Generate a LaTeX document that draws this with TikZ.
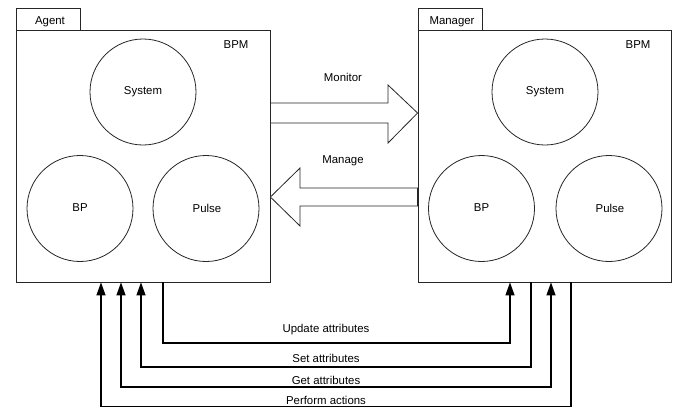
\documentclass[tikz,border=0pt]{standalone}
\usepackage{fontspec}
\setmainfont{Liberation Sans}
\usetikzlibrary{arrows.meta,calc}
\begin{document}
\begin{tikzpicture}[x=1pt,y=-1pt,
  every node/.style={font=\fontsize{11.4}{13}\selectfont, inner sep=0pt},
  bigbox/.style={draw=black!85, line width=0.8pt, minimum width=254pt, minimum height=252pt},
  tabbox/.style={draw=black!85, line width=0.8pt, minimum width=64pt, minimum height=22pt},
  circ/.style={draw=black!85, line width=0.8pt, circle, minimum size=106pt},
  block/.style={draw=black!85, line width=0.8pt, fill=white},
  conn/.style={line width=1.2pt, black},
  tip/.style={-{Triangle[length=13pt,width=9pt]}},
  bothtip/.style={{Triangle[length=13pt,width=9pt]}-{Triangle[length=13pt,width=9pt]}}
]
\useasboundingbox (0,0) rectangle (673,408);
% boxes
\node[bigbox] (agent) at (143,156) {};
\node[bigbox, minimum width=253pt] (manager) at (544.5,156) {};
\node[tabbox] (agenttab) at (48,19) {};
\node[tabbox] (managertab) at (450,19) {};
\node (agentlbl) at (50,22) {Agent};
\node (managerlbl) at (452,22) {Manager};
\node (bpm1) at (236,45) {BPM};
\node (bpm2) at (638,45) {BPM};
% circles
\node[circ] (sys1) at (143,92) {};
\node[circ] (bp1) at (80,208.5) {};
\node[circ] (pulse1) at (206,208.5) {};
\node (sys1t) at (143,92) {System};
\node (bp1t) at (80,208) {BP};
\node (pulse1t) at (207,208) {Pulse};
\node[circ] (sys2) at (545,92) {};
\node[circ] (bp2) at (481.5,208.5) {};
\node[circ] (pulse2) at (609,208.5) {};
\node (sys2t) at (545,92) {System};
\node (bp2t) at (481.5,208) {BP};
\node (pulse2t) at (610,208) {Pulse};
% block arrows
\draw[block] (agent.east |- 0,103) -- (388,103) -- (388,85) -- (manager.west |- 0,113)
  -- (388,143) -- (388,123) -- (agent.east |- 0,123) -- cycle;
\node (monitor) at (343,77) {Monitor};
\draw[block] (manager.west |- 0,188) -- (300,188) -- (300,168) -- (agent.east |- 0,197)
  -- (300,226) -- (300,206) -- (manager.west |- 0,206) -- cycle;
\node (manage) at (343,161) {Manage};
% bottom connectors
\coordinate (u1) at (163,343);
\coordinate (u2) at (510,343);
\draw[conn,tip] (agent.south -| u1) -- (u1) -- (u2) -- (manager.south -| u2);
\node (updl) at (326,330) {Update attributes};
\coordinate (s1) at (141,367);
\coordinate (s2) at (531,367);
\draw[conn,tip] (manager.south -| s2) -- (s2) -- (s1) -- (agent.south -| s1);
\node (setl) at (326,358) {Set attributes};
\coordinate (g1) at (121,387);
\coordinate (g2) at (551,387);
\draw[conn,bothtip] (agent.south -| g1) -- (g1) -- (g2) -- (manager.south -| g2);
\node (getl) at (326,380) {Get attributes};
\coordinate (p1) at (101,406.5);
\coordinate (p2) at (571,406.5);
\draw[conn,tip] (manager.south -| p2) -- (p2) -- (p1) -- (agent.south -| p1);
\node (perfl) at (326,400) {Perform actions};
\end{tikzpicture}
\end{document}
